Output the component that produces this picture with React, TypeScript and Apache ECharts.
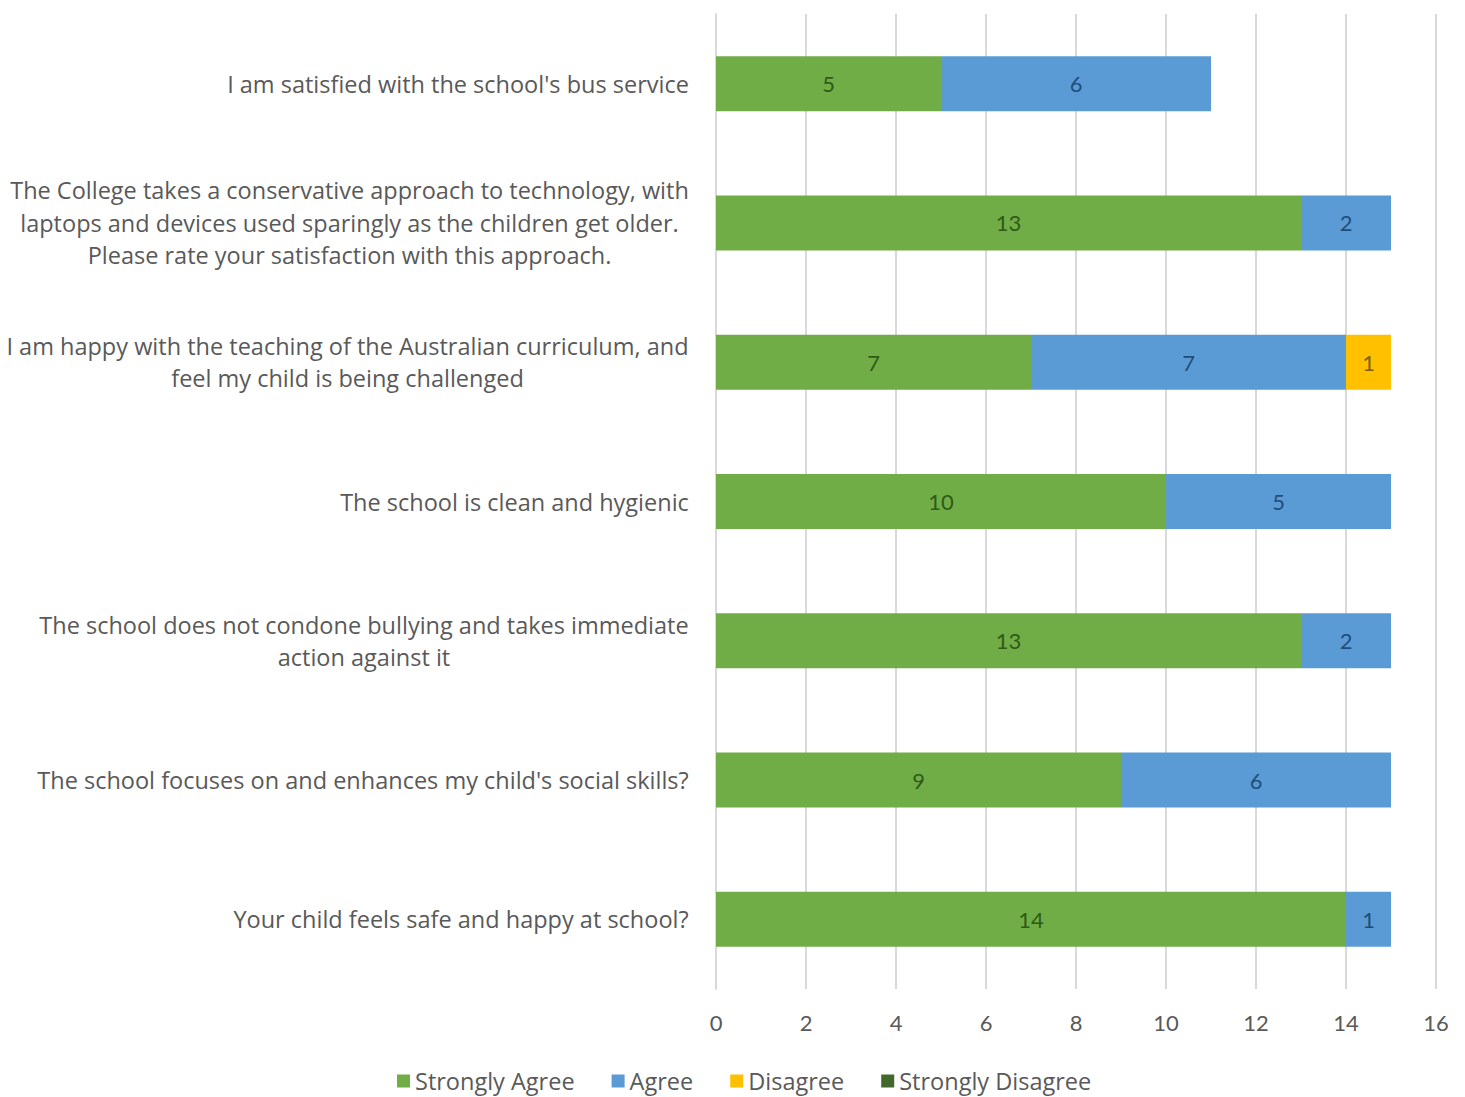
import React, { useEffect, useRef } from "react";
import * as echarts from "echarts";

const categories = [
  "I am satisfied with the school's bus service",
  "The College takes a conservative approach to technology, with\nlaptops and devices used sparingly as the children get older.\nPlease rate your satisfaction with this approach.",
  "I am happy with the teaching of the Australian curriculum, and\nfeel my child is being challenged",
  "The school is clean and hygienic",
  "The school does not condone bullying and takes immediate\naction against it",
  "The school focuses on and enhances my child's social skills?",
  "Your child feels safe and happy at school?",
];
const strongAgree = [5, 13, 7, 10, 13, 9, 14];
const agree = [6, 2, 7, 5, 2, 6, 1];
const disagree = [0, 0, 1, 0, 0, 0, 0];
const strongDisagree = [0, 0, 0, 0, 0, 0, 0];
const seriesNames = ["Strongly Agree", "Agree", "Disagree", "Strongly Disagree"];
const xTicks = { min: 0, max: 16, interval: 2 };

const FONT = "Lato, 'Open Sans', sans-serif";
const CAT_FONT = "'Open Sans', sans-serif";
const FS = 22;
const CAT_FS = 23.5;

export default function App() {
  const ref = useRef<HTMLDivElement>(null);
  useEffect(() => {
    if (!ref.current) return;
    const chart = echarts.init(ref.current, null, { renderer: "svg" });

    const canvas = document.createElement("canvas");
    const ctx = canvas.getContext("2d")!;
    ctx.font = `${CAT_FS}px 'Open Sans'`;
    const rich: Record<string, any> = {};
    categories.forEach((c, i) => {
      const lines = c.split("\n");
      const w = Math.max(...lines.map((l) => ctx.measureText(l).width));
      rich["c" + i] = {
        width: Math.ceil(w) + 2,
        align: "center",
        fontSize: CAT_FS,
        fontFamily: CAT_FONT,
        color: "#595959",
        lineHeight: 32.5,
      };
    });

    const colors = ["#70AD47", "#5B9BD5", "#FFC000", "#43682B"];
    const labelColors = ["#2f5a18", "#1f4e79", "#7f5f00", "#ffffff"];
    const datasets = [strongAgree, agree, disagree, strongDisagree];

    chart.setOption({
      animation: false,
      textStyle: { fontFamily: FONT },
      color: colors,
      grid: { left: 716, right: 29, top: 14, bottom: 108, outerBoundsMode: "none" },
      legend: {
        top: 1064,
        left: 392,
        icon: "rect",
        itemWidth: 13,
        itemHeight: 13,
        itemGap: 37,
        textStyle: { fontSize: CAT_FS, color: "#595959", fontFamily: CAT_FONT },
        data: seriesNames,
      },
      xAxis: {
        type: "value",
        min: xTicks.min,
        max: xTicks.max,
        interval: xTicks.interval,
        axisLine: { show: false },
        axisTick: { show: false },
        axisLabel: { fontSize: FS, color: "#595959", margin: 22, fontFamily: FONT },
        splitLine: { lineStyle: { color: "#d9d9d9", width: 2 } },
      },
      yAxis: {
        type: "category",
        inverse: true,
        data: categories,
        axisLine: { show: true, lineStyle: { color: "#d9d9d9", width: 2 } },
        axisTick: { show: false },
        axisLabel: {
          margin: 26,
          align: "right",
          formatter: (v: string, i: number) =>
            v
              .split("\n")
              .map((l) => `{c${i}|${l}}`)
              .join("\n"),
          rich,
        },
      },
      series: seriesNames.map((n, si) => ({
        name: n,
        type: "bar",
        stack: "total",
        barWidth: 55,
        data: datasets[si].map((v) => (v === 0 ? null : v)),
        label: {
          show: true,
          position: "inside",
          fontSize: FS,
          fontFamily: FONT,
          color: labelColors[si],
        },
      })),
    });
    return () => chart.dispose();
  }, []);
  return (
    <div
      ref={ref}
      style={{ position: "fixed", left: 0, top: 0, width: 1465, height: 1097, background: "#fff" }}
    />
  );
}
